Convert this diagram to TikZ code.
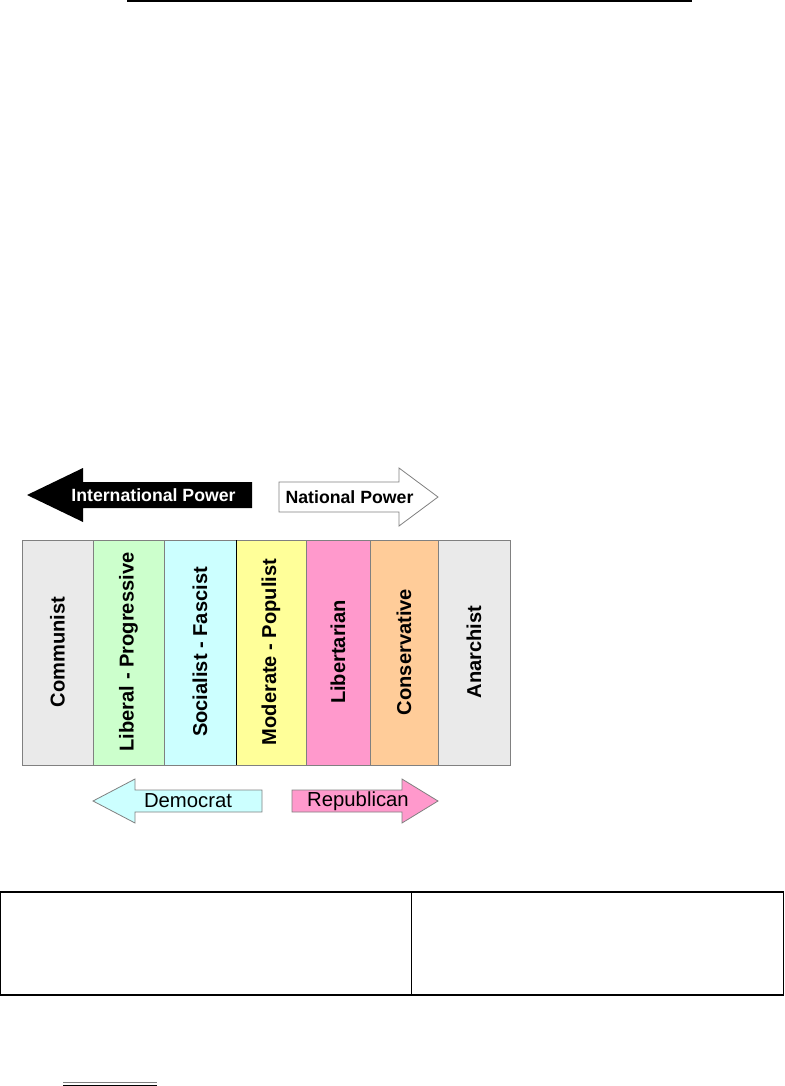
\documentclass[tikz,border=0pt]{standalone}
\usepackage{fontspec}
\setmainfont{Liberation Sans}
\definecolor{commgray}{HTML}{EAEAEA}
\definecolor{libgreen}{HTML}{CCFFCC}
\definecolor{soccyan}{HTML}{CCFFFF}
\definecolor{modyellow}{HTML}{FFFF99}
\definecolor{ltpink}{HTML}{FF99CC}
\definecolor{conspeach}{HTML}{FFCC99}
\definecolor{edgegray}{HTML}{808080}
\tikzset{
  colline/.style={draw=edgegray, line width=0.9pt},
  collabel/.style={rotate=90, inner sep=0pt, font=\fontsize{20.1}{24}\selectfont\bfseries},
  powerlabel/.style={inner sep=0pt, font=\fontsize{17.7}{21}\selectfont\bfseries},
  partylabel/.style={inner sep=0pt, font=\fontsize{20.3}{24}\selectfont},
  arrowline/.style={draw=edgegray, line width=0.8pt, line join=miter}
}
\begin{document}
\begin{tikzpicture}[x=1pt,y=-1pt]
\useasboundingbox (0,0) rectangle (784,1086);
\draw[line width=1.4pt] (127,1) -- (692,1);

% power arrows
\fill[black] (27,495) -- (83,468) -- (83,482) -- (252,482) -- (252,508)
  -- (83,508) -- (83,522) -- cycle;
\node[powerlabel, text=white] (intl) at (153.5,495) {International Power};
\draw[arrowline, fill=white] (279,482) -- (399,482) -- (399,468) -- (438,497)
  -- (399,526) -- (399,512) -- (279,512) -- cycle;
\node[powerlabel] (natl) at (349.5,497) {National Power};

% columns
\foreach \l/\r/\c/\n/\t in {22/93/commgray/comm/Communist,
  93/164/libgreen/lib/Liberal - Progressive,
  164/236/soccyan/soc/Socialist - Fascist,
  236/306/modyellow/mod/Moderate - Populist,
  306/370/ltpink/libt/Libertarian,
  370/438/conspeach/cons/Conservative,
  438/510/commgray/anar/Anarchist} {
  \draw[colline, fill=\c] (\l,540) rectangle (\r,765);
  \node[collabel] (\n) at ({(\l+\r)/2},652) {\t};
}
\draw[line width=0.9pt] (236,540) -- (236,765);

% party arrows
\draw[arrowline, fill=soccyan] (93,801) -- (135,779) -- (135,790) -- (262,790)
  -- (262,812) -- (135,812) -- (135,823) -- cycle;
\node[partylabel] (dem) at (188,801) {Democrat};
\draw[arrowline, fill=ltpink] (292,790) -- (402,790) -- (402,779) -- (438,801)
  -- (402,823) -- (402,812) -- (292,812) -- cycle;
\node[partylabel] (rep) at (358,801) {Republican};

% table
\draw[line width=1.3pt] (0.7,892) rectangle (783.3,995);
\draw[line width=1pt] (411,892) -- (411,995);

\draw[edgegray, line width=1pt] (63,1082) -- (157,1082);
\draw[line width=1pt] (63,1085) -- (157,1085);
\end{tikzpicture}
\end{document}
